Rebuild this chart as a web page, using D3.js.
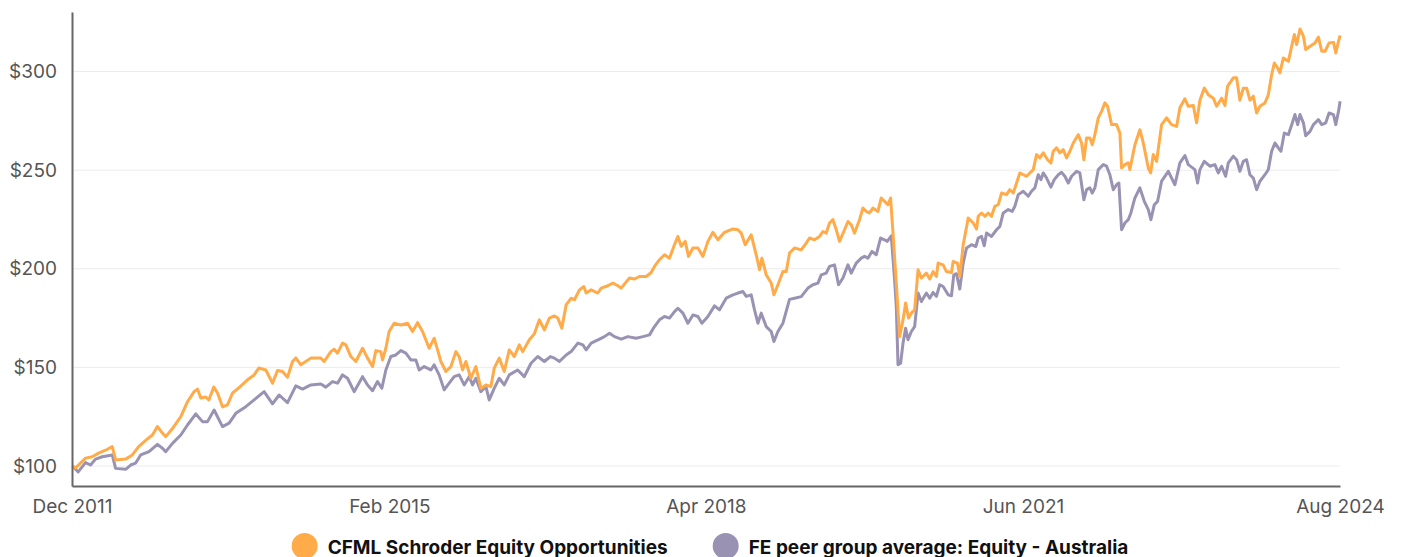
<!DOCTYPE html>
<html>
<head>
<meta charset="utf-8">
<script src="https://cdn.jsdelivr.net/npm/d3@7"></script>
<style>
  body { margin: 0; background: #fff; font-family: Inter, "Noto Sans", sans-serif; }
  .axis text { font-family: Inter, sans-serif; font-size: 19px; fill: #555; }
  .legend text { font-family: Inter, sans-serif; font-size: 19px; font-weight: 700; fill: #111; }
</style>
</head>
<body>
<div id="chart"></div>
<script>
// x values are decimal years, y values are growth of $100
const fund = [
  [2011.920,100],[2011.950,99],[2012.050,104],[2012.117,104.7],[2012.180,106.5],[2012.250,108],[2012.317,109.8],[2012.350,103],
  [2012.450,103.5],[2012.517,105.6],[2012.580,109.8],[2012.650,113],[2012.717,115.7],[2012.767,120],[2012.817,116.7],[2012.850,114.9],
  [2012.917,119],[2013.000,125],[2013.067,132.6],[2013.133,137.7],[2013.167,139],[2013.200,134.5],[2013.250,135],[2013.280,133.5],
  [2013.330,140],[2013.367,137],[2013.417,130],[2013.467,131],[2013.517,137],[2013.580,139.6],[2013.667,143.7],[2013.730,146],
  [2013.780,149.7],[2013.850,148.7],[2013.917,142],[2013.967,148.4],[2014.017,147.9],[2014.067,145],[2014.117,153],[2014.150,154.8],
  [2014.200,151.3],[2014.300,154.7],[2014.400,154.7],[2014.433,153],[2014.500,158],[2014.533,159.2],[2014.567,157.2],[2014.617,162.3],
  [2014.650,161.4],[2014.700,155.5],[2014.750,153],[2014.817,159.7],[2014.867,154.7],[2014.917,150.4],[2014.950,158.5],[2015.000,158],
  [2015.017,153.8],[2015.050,159.7],[2015.083,168.2],[2015.133,172.4],[2015.200,171.5],[2015.267,172.4],[2015.317,168.2],[2015.367,172.7],
  [2015.417,168.2],[2015.483,159.7],[2015.533,164.8],[2015.567,158.9],[2015.600,153],[2015.650,147.9],[2015.700,150.4],[2015.750,158],
  [2015.783,155.5],[2015.817,148.7],[2015.850,153],[2015.900,144.5],[2015.950,150.4],[2016.000,139.4],[2016.050,141.1],[2016.100,140.3],
  [2016.133,149.6],[2016.183,154.7],[2016.233,147.9],[2016.283,158.9],[2016.333,155.5],[2016.383,161.4],[2016.417,158],[2016.483,164],
  [2016.533,167],[2016.583,174.1],[2016.633,169],[2016.683,175],[2016.733,176.1],[2016.767,175],[2016.807,169.9],[2016.850,181.7],
  [2016.900,185.1],[2016.933,184.3],[2016.983,189.3],[2017.027,191],[2017.050,187.7],[2017.100,189.3],[2017.167,187.7],[2017.200,190.2],
  [2017.267,191.4],[2017.317,192.8],[2017.367,191.4],[2017.400,190.2],[2017.483,195.3],[2017.533,194.8],[2017.583,196.1],[2017.650,196.1],
  [2017.700,198.1],[2017.733,201.2],[2017.783,204.6],[2017.833,207.1],[2017.883,205.4],[2017.933,212.2],[2017.967,216.4],[2018.000,211.4],
  [2018.040,213.9],[2018.073,206.3],[2018.117,210.5],[2018.167,210.5],[2018.217,206.3],[2018.267,213.9],[2018.317,218.5],[2018.367,214.7],
  [2018.433,218.5],[2018.517,220.2],[2018.567,219.8],[2018.600,218.1],[2018.640,212.2],[2018.700,217.2],[2018.750,207.1],[2018.783,199.5],
  [2018.807,205.4],[2018.850,196.9],[2018.900,192.8],[2018.927,186.8],[2018.967,191.9],[2019.017,198.6],[2019.050,198.6],[2019.083,208],
  [2019.133,210.5],[2019.200,209.6],[2019.250,213],[2019.283,215.6],[2019.333,214.7],[2019.383,216.4],[2019.417,218.9],[2019.450,218.1],
  [2019.483,223.2],[2019.517,224.9],[2019.550,219.8],[2019.583,213.9],[2019.633,219.8],[2019.667,224],[2019.700,222.3],[2019.733,218.1],
  [2019.783,224.9],[2019.817,230.8],[2019.850,229.1],[2019.883,228.3],[2019.917,230.8],[2019.967,229.1],[2020.000,235.9],[2020.033,234.2],
  [2020.067,232.5],[2020.093,235.9],[2020.117,218.1],[2020.150,192.7],[2020.183,165.6],[2020.217,174.1],[2020.243,182.6],[2020.273,175],
  [2020.300,177.5],[2020.333,179.2],[2020.367,199.5],[2020.400,195.3],[2020.450,197.8],[2020.483,194.8],[2020.517,198.6],[2020.550,196.1],
  [2020.567,202.9],[2020.617,202],[2020.650,198.6],[2020.700,198.1],[2020.717,203.7],[2020.760,202.9],[2020.783,196.1],[2020.817,212.2],
  [2020.867,225.7],[2020.917,223.2],[2020.950,220.2],[2020.967,226.6],[2021.000,228.3],[2021.033,226.6],[2021.067,228.3],[2021.100,226.6],
  [2021.133,231.7],[2021.167,232.5],[2021.200,238.4],[2021.250,237.6],[2021.283,240.1],[2021.317,238.4],[2021.350,243.5],[2021.383,248.6],
  [2021.417,247.7],[2021.450,246.9],[2021.483,248.6],[2021.517,250.3],[2021.550,257.9],[2021.583,256.2],[2021.617,258.8],[2021.660,255.3],
  [2021.693,253.7],[2021.717,259.6],[2021.750,261.3],[2021.783,258.8],[2021.817,260.4],[2021.850,256.2],[2021.883,259.6],[2021.917,263.8],
  [2021.967,268],[2022.000,263.8],[2022.023,255.3],[2022.050,266.3],[2022.083,266.3],[2022.107,262.9],[2022.133,268],[2022.167,276.5],
  [2022.200,279.8],[2022.233,284.1],[2022.260,282.4],[2022.300,273.1],[2022.350,273.1],[2022.383,268.8],[2022.400,251.1],[2022.433,252.8],
  [2022.467,253.7],[2022.483,250.3],[2022.533,262.9],[2022.583,270.5],[2022.617,263.8],[2022.667,251.1],[2022.690,248.6],[2022.717,257.9],
  [2022.750,254.5],[2022.800,273.1],[2022.850,276.5],[2022.900,273.1],[2022.950,272.2],[2022.983,281.6],[2023.033,286.2],[2023.067,282.4],
  [2023.117,282.8],[2023.150,274],[2023.183,285.5],[2023.227,291.6],[2023.267,288.2],[2023.317,286.5],[2023.350,282.4],[2023.400,286.5],
  [2023.433,282.8],[2023.460,292.6],[2023.517,296.8],[2023.550,296.8],[2023.583,285.5],[2023.617,291.6],[2023.650,291.6],[2023.683,285.5],
  [2023.717,287.5],[2023.750,279],[2023.783,282.4],[2023.833,284.1],[2023.867,288.2],[2023.900,298.4],[2023.927,304.3],[2023.960,301.8],
  [2023.983,299.3],[2024.017,306.9],[2024.067,305.2],[2024.100,312.8],[2024.127,318.8],[2024.150,313.7],[2024.183,321.6],[2024.217,317.9],
  [2024.240,311.2],[2024.283,312.8],[2024.333,314.5],[2024.367,317.5],[2024.400,310.3],[2024.433,310.3],[2024.473,314.5],[2024.517,314.8],
  [2024.540,309.4],[2024.567,315.3],[2024.583,318.3]
];

const peer = [
  [2011.920,100],[2011.977,97],[2012.050,101.7],[2012.100,100.5],[2012.150,103.5],[2012.217,104.7],[2012.317,105.6],[2012.350,98.8],
  [2012.450,98.3],[2012.500,100.5],[2012.550,101.5],[2012.600,105.6],[2012.683,107.3],[2012.767,111],[2012.817,109],[2012.850,107.3],
  [2012.917,111.5],[2013.000,115.7],[2013.067,120.8],[2013.150,126.4],[2013.217,122.5],[2013.267,122.5],[2013.333,128.4],[2013.417,120],
  [2013.483,121.7],[2013.550,126.7],[2013.650,130.1],[2013.733,133.5],[2013.833,137.7],[2013.917,131.5],[2013.983,136],[2014.067,132.1],
  [2014.150,140.6],[2014.217,139],[2014.300,141.1],[2014.400,141.6],[2014.450,140],[2014.517,142.8],[2014.567,142],[2014.617,146.2],
  [2014.667,144.5],[2014.733,137.7],[2014.817,145.3],[2014.867,141.1],[2014.917,138.2],[2014.967,142.8],[2015.010,139.4],[2015.050,148.7],
  [2015.100,155.5],[2015.150,156.3],[2015.200,158.5],[2015.250,157.2],[2015.300,153.8],[2015.350,153.8],[2015.383,148.7],[2015.433,150.4],
  [2015.500,148.7],[2015.533,151.3],[2015.583,146.2],[2015.633,138.6],[2015.683,142],[2015.733,145.3],[2015.783,146.2],[2015.833,141.1],
  [2015.883,145.3],[2015.917,141.1],[2015.950,144.5],[2016.000,137.7],[2016.050,140.3],[2016.083,133.5],[2016.133,139.4],[2016.183,144.5],
  [2016.233,141.1],[2016.283,146.2],[2016.367,148.7],[2016.433,145.3],[2016.500,152.1],[2016.567,155.5],[2016.633,153],[2016.693,155.5],
  [2016.733,154.7],[2016.783,153],[2016.850,156.3],[2016.900,158],[2016.967,162.3],[2017.017,161.4],[2017.050,158.9],[2017.100,162.3],
  [2017.183,164.3],[2017.233,165.6],[2017.283,167.3],[2017.333,165.6],[2017.400,164.3],[2017.467,165.6],[2017.550,164.8],[2017.617,165.6],
  [2017.683,166.5],[2017.733,170.7],[2017.783,174.1],[2017.833,175.8],[2017.883,175],[2017.933,178.3],[2017.967,180],[2018.017,177.5],
  [2018.067,172.4],[2018.117,176.6],[2018.167,175.8],[2018.207,172.4],[2018.267,175.8],[2018.333,181.2],[2018.383,179.2],[2018.450,185.1],
  [2018.517,186.8],[2018.567,187.7],[2018.617,188.5],[2018.650,186],[2018.700,186.8],[2018.733,179.2],[2018.767,172.4],[2018.800,177.5],
  [2018.850,170.7],[2018.900,168.2],[2018.927,163.1],[2018.967,168.2],[2019.017,172.4],[2019.083,184.5],[2019.133,185.1],[2019.200,185.9],
  [2019.267,190.2],[2019.317,191.9],[2019.367,192.7],[2019.400,196.9],[2019.450,197.8],[2019.483,201.2],[2019.533,202],[2019.573,191.9],
  [2019.617,195.3],[2019.667,202],[2019.700,197.8],[2019.750,202.9],[2019.800,205.4],[2019.833,206.3],[2019.867,205.4],[2019.907,208.8],
  [2019.950,207.1],[2019.993,215.6],[2020.033,214.7],[2020.060,213.9],[2020.100,216.7],[2020.133,194.4],[2020.150,180.9],[2020.167,151.3],
  [2020.193,152.1],[2020.217,162.3],[2020.243,169.9],[2020.267,164],[2020.300,168.2],[2020.333,170.7],[2020.367,187.7],[2020.400,183.4],
  [2020.450,187.7],[2020.483,185.1],[2020.517,188],[2020.550,186],[2020.583,191.9],[2020.617,191],[2020.667,186.8],[2020.700,186.3],
  [2020.723,196.9],[2020.750,197.5],[2020.783,189.7],[2020.817,202.9],[2020.850,210.5],[2020.900,212.2],[2020.943,211.3],[2020.967,215.6],
  [2021.000,216.4],[2021.027,211.7],[2021.050,218.1],[2021.100,216.4],[2021.150,219.8],[2021.183,221.5],[2021.217,228.3],[2021.267,230],
  [2021.307,229.1],[2021.333,231.7],[2021.367,237.6],[2021.417,239.3],[2021.467,236.8],[2021.500,239.3],[2021.533,241],[2021.567,247.7],
  [2021.593,245.2],[2021.617,248.6],[2021.650,246],[2021.693,241.4],[2021.727,245.2],[2021.767,247.7],[2021.800,248.9],[2021.833,246.9],
  [2021.867,243.5],[2021.900,246.9],[2021.950,249.4],[2021.983,248.6],[2022.023,235],[2022.050,240.1],[2022.083,241],[2022.107,238.4],
  [2022.133,241],[2022.167,250.3],[2022.217,252.8],[2022.250,252],[2022.283,247.7],[2022.317,240.1],[2022.350,242.6],[2022.373,243.5],
  [2022.400,219.8],[2022.433,223.2],[2022.467,224.9],[2022.493,228.3],[2022.533,235.9],[2022.583,241],[2022.627,234.2],[2022.667,230],
  [2022.693,224.9],[2022.727,232.5],[2022.760,234.2],[2022.800,244.4],[2022.867,249.4],[2022.933,242.6],[2022.983,253.7],[2023.033,257.4],
  [2023.067,252.8],[2023.133,250.3],[2023.160,243.5],[2023.183,250.3],[2023.227,254.5],[2023.283,252],[2023.333,252.8],[2023.367,248.6],
  [2023.400,252],[2023.440,246.9],[2023.467,253.7],[2023.517,257.1],[2023.550,255.3],[2023.583,249.4],[2023.617,254.5],[2023.650,255.3],
  [2023.683,247.7],[2023.717,246],[2023.750,240.1],[2023.783,244.4],[2023.833,247.7],[2023.867,250.3],[2023.900,259.6],[2023.933,263.8],
  [2023.967,261.3],[2023.993,259.6],[2024.027,268.8],[2024.067,268],[2024.107,274],[2024.133,278.2],[2024.160,273.1],[2024.183,278.2],
  [2024.217,274],[2024.240,267.5],[2024.283,269.7],[2024.317,273.1],[2024.367,275.6],[2024.400,273.1],[2024.440,274],[2024.473,279],
  [2024.517,278.2],[2024.540,273.1],[2024.567,279.8],[2024.583,284.9]
];

const seriesNames = ["CFML Schroder Equity Opportunities", "FE peer group average: Equity - Australia"];
const seriesColors = ["#ffab4a", "#9992b3"];
const xTickLabels = ["Dec 2011", "Feb 2015", "Apr 2018", "Jun 2021", "Aug 2024"];
const yTickValues = [100, 150, 200, 250, 300];

const W = 1401, H = 557;
const margin = { top: 12, right: 61, bottom: 71, left: 72 },
    width = W - margin.left - margin.right,
    height = H - margin.top - margin.bottom;

const parseMonth = d3.timeParse("%b %Y");
const tickDates = xTickLabels.map(parseMonth);

function yearToDate(y) {
    const yr = Math.floor(y);
    const s = new Date(yr, 0, 1), e = new Date(yr + 1, 0, 1);
    return new Date(+s + (y - yr) * (e - s));
}

const series = [fund, peer].map((pts, i) => ({
    name: seriesNames[i],
    color: seriesColors[i],
    values: pts.map(([t, v]) => ({ date: yearToDate(t), value: v }))
}));

const svg = d3.select("#chart")
    .append("svg")
    .attr("width", W)
    .attr("height", H);

const g = svg.append("g")
    .attr("transform", `translate(${margin.left},${margin.top})`);

const x = d3.scaleTime()
    .domain([tickDates[0], tickDates[tickDates.length - 1]])
    .range([0, width]);

const y = d3.scaleLinear()
    .domain([89.86, 330.2])
    .range([height, 0]);

// grid
g.append("g")
    .selectAll("line")
    .data(yTickValues)
    .join("line")
    .attr("x1", 0)
    .attr("x2", width)
    .attr("y1", d => y(d))
    .attr("y2", d => y(d))
    .attr("stroke", "#ececec")
    .attr("stroke-width", 1);

const line = d3.line()
    .x(d => x(d.date))
    .y(d => y(d.value));

// peer drawn first, fund on top
g.append("g")
    .selectAll("path")
    .data(series.slice().reverse())
    .join("path")
    .attr("fill", "none")
    .attr("stroke", d => d.color)
    .attr("stroke-width", 3)
    .attr("stroke-linejoin", "round")
    .attr("d", d => line(d.values));

const yAxis = d3.axisLeft(y)
    .tickValues(yTickValues)
    .tickSize(0)
    .tickSizeOuter(0)
    .tickPadding(15)
    .tickFormat(d => "$" + d);

const xAxis = d3.axisBottom(x)
    .tickValues(tickDates)
    .tickSize(0)
    .tickSizeOuter(0)
    .tickPadding(14)
    .tickFormat(d3.timeFormat("%b %Y"));

g.append("g")
    .attr("class", "axis y-axis")
    .call(yAxis)
    .call(a => a.select(".domain").attr("stroke", "#666").attr("stroke-width", 2));

g.append("g")
    .attr("class", "axis x-axis")
    .attr("transform", `translate(0,${height})`)
    .call(xAxis)
    .call(a => a.select(".domain").attr("stroke", "#666").attr("stroke-width", 2));

// legend
const legend = svg.append("g").attr("class", "legend");
const items = legend.selectAll("g")
    .data(series)
    .join("g");

items.append("circle")
    .attr("r", 13)
    .attr("cx", 13)
    .attr("cy", 0)
    .attr("fill", d => d.color);

items.append("text")
    .attr("x", 36)
    .attr("y", 7.5)
    .text(d => d.name);

const gap = 45;
let offset = 0;
const widths = [];
items.each(function () {
    widths.push(this.getBBox().width);
});
const total = d3.sum(widths) + gap * (widths.length - 1);
let start = margin.left + width / 2 + 4 - total / 2;
items.attr("transform", (d, i) => {
    const tx = start + offset;
    offset += widths[i] + gap;
    return `translate(${tx},546)`;
});
</script>
</body>
</html>
